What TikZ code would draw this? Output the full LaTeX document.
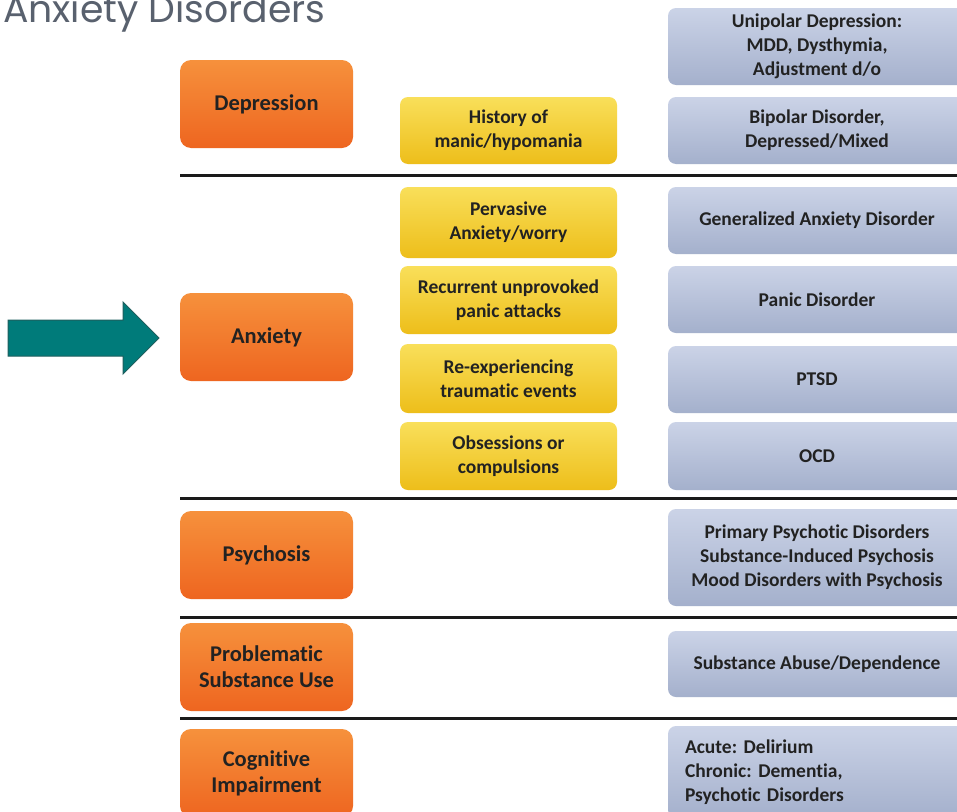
\documentclass[tikz,border=0pt]{standalone}
\usepackage{fontspec}
\setmainfont[Ligatures=NoCommon]{Carlito}
\newfontfamily\titlefont{Poppins}
\definecolor{orangeL}{HTML}{F6913C}
\definecolor{orangeM}{HTML}{F26B22}
\definecolor{orangeD}{HTML}{EE6520}
\definecolor{yellowL}{HTML}{F9DF5A}
\definecolor{yellowM}{HTML}{F3CB1F}
\definecolor{yellowD}{HTML}{EDBE1A}
\definecolor{blueL}{HTML}{CBD3E7}
\definecolor{blueM}{HTML}{AEBAD5}
\definecolor{blueD}{HTML}{A4B0CC}
\definecolor{tealF}{HTML}{007B7A}
\definecolor{tealE}{HTML}{1F5F5E}
\definecolor{inkdark}{HTML}{222222}
\definecolor{titlegrey}{HTML}{59616E}
\definecolor{rulecol}{HTML}{1A1A1A}
\tikzset{
  catbox/.style={rounded corners=11pt, minimum width=173pt, minimum height=88pt,
    top color=orangeL, middle color=orangeM, bottom color=orangeD,
    align=center, text=inkdark, inner sep=2pt,
    font=\frenchspacing\bfseries\fontsize{22.5}{26}\selectfont},
  cluebox/.style={rounded corners=8pt, minimum width=217pt,
    top color=yellowL, middle color=yellowM, bottom color=yellowD,
    align=center, text=inkdark, inner sep=2pt,
    font=\frenchspacing\bfseries\fontsize{19.5}{24}\selectfont},
  dxbox/.style={rounded corners=8pt, minimum width=298pt,
    top color=blueL, middle color=blueM, bottom color=blueD,
    align=center, text=inkdark, inner sep=2pt,
    font=\frenchspacing\bfseries\fontsize{19.5}{24}\selectfont},
  sepline/.style={draw=rulecol, line width=3pt}
}
\begin{document}
\begin{tikzpicture}[x=1pt,y=-1pt]
\clip (0,0) rectangle (957,811);
\fill[white] (0,0) rectangle (957,811);

% title
\node[anchor=base west, inner sep=0pt, text=titlegrey,
  font=\titlefont\fontsize{37.8}{38}\selectfont] (title) at (3,22) {Anxiety Disorders};

% separators between the category rows
\coordinate (s1a) at (180,175); \coordinate (s1b) at (957,175);
\coordinate (s2a) at (180,498); \coordinate (s2b) at (957,498);
\coordinate (s3a) at (180,617); \coordinate (s3b) at (957,617);
\coordinate (s4a) at (180,718); \coordinate (s4b) at (957,718);
\draw[sepline] (s1a) -- (s1b);
\draw[sepline] (s2a) -- (s2b);
\draw[sepline] (s3a) -- (s3b);
\draw[sepline] (s4a) -- (s4b);

% categories
\node[catbox] (dep) at (266.5,104) {Depression};
\node[catbox] (anx) at (266.5,337) {Anxiety};
\node[catbox] (psy) at (266.5,555) {Psychosis};
\node[catbox] (sub) at (266.5,667) {Problematic\\Substance Use};
\node[catbox] (cog) at (266.5,773) {Cognitive\\Impairment};

% clinical features
\node[cluebox, minimum height=67pt] (hist) at (508.5,130.5) {History of\\manic/hypomania};
\node[cluebox, minimum height=71pt] (perv) at (508.5,222.5) {Pervasive\\Anxiety/worry};
\node[cluebox, minimum height=68pt] (recu) at (508.5,300) {Recurrent unprovoked\\panic attacks};
\node[cluebox, minimum height=69pt] (reex) at (508.5,378.5) {Re-experiencing\\traumatic events};
\node[cluebox, minimum height=68pt] (obse) at (508.5,456) {Obsessions or\\compulsions};

% diagnoses
\node[dxbox, minimum height=77pt] (unip) at (817,46.5) {Unipolar Depression:\\MDD, Dysthymia,\\Adjustment d/o};
\node[dxbox, minimum height=67pt] (bipo) at (817,130.5) {Bipolar Disorder,\\Depressed/Mixed};
\node[dxbox, minimum height=67pt] (gad) at (817,220.5) {Generalized Anxiety Disorder};
\node[dxbox, minimum height=67pt] (pan) at (817,299.5) {Panic Disorder};
\node[dxbox, minimum height=67pt] (ptsd) at (817,379.5) {PTSD};
\node[dxbox, minimum height=68pt] (ocd) at (817,456) {OCD};
\node[dxbox, minimum height=97pt] (ppd) at (817,557.5) {Primary Psychotic Disorders\\Substance-Induced Psychosis\\Mood Disorders with Psychosis};
\node[dxbox, minimum height=66pt] (sad) at (817,664) {Substance Abuse/Dependence};
\node[dxbox, minimum height=92pt, align=left, text width=264pt, inner xsep=17pt] (del) at (817,772)
  {Acute: Delirium\\Chronic: Dementia,\\Psychotic Disorders};

% block arrow pointing at the anxiety row
\draw[fill=tealF, draw=tealE, line width=1pt]
  (8,320) -- (123,320) -- (123,302) -- (159,338) -- (123,374) -- (123,356) -- (8,356) -- cycle;
\end{tikzpicture}
\end{document}
